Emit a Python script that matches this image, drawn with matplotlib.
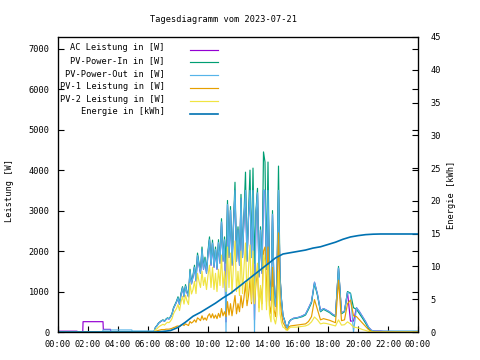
import matplotlib
matplotlib.use("Agg")
import matplotlib.pyplot as plt
from matplotlib.lines import Line2D
import numpy as np

# ---------------- data ----------------
# day series on a 6-minute grid (06:30 .. 15:30) then 12-minute grid (15:42 .. 21:30)
t_day = [6.5 + 0.1 * i for i in range(91)] + [15.7 + 0.2 * i for i in range(30)]

pv_in = [
    120, 160, 220, 250, 280,
    300, 270, 320, 350, 330, 380, 450, 600, 680, 760,
    870, 700, 950, 1120, 900, 1170, 1000, 900, 1550, 1230,
    1400, 1650, 1300, 1950, 1700, 1500, 2100, 1600, 1850, 1500,
    2000, 2350, 1700, 2270, 1650, 2100, 1600, 2280, 1750, 2800,
    1800, 2350, 1700, 3250, 1900, 3100, 1700, 2700, 3700, 1800,
    2600, 1700, 3400, 1900, 2900, 3950, 1800, 2900, 4000, 1900,
    4050, 1700, 3000, 3550, 1400, 2600, 1500, 4450, 4200, 1600,
    4200, 1300, 800, 3000, 1000, 650, 1400, 4100, 1400, 800,
    400, 300, 150, 100, 250, 300,
    330, 340, 360, 380, 420, 560, 720, 1200, 900, 500,
    560, 520, 480, 420, 380, 1620, 450, 500, 1000, 960,
    600, 560, 450, 340, 220, 90, 20, 0, 0, 0,
]
pv_out = [
    115, 155, 215, 245, 275,
    290, 265, 310, 340, 320, 370, 440, 580, 660, 740,
    840, 680, 920, 1090, 870, 1130, 970, 870, 1500, 1190,
    1360, 1600, 1260, 1890, 1650, 1450, 2040, 1550, 1790, 1450,
    1940, 2280, 1650, 2200, 1600, 2040, 1550, 2210, 1700, 2720,
    1750, 2280, 0, 3150, 1840, 3010, 1650, 2620, 3500, 1750,
    2520, 1650, 3300, 1840, 2810, 3500, 1750, 2810, 3500, 1840,
    3500, 0, 2910, 3440, 1360, 2520, 1450, 3500, 3500, 1550,
    3500, 1260, 780, 2910, 970, 630, 1360, 3500, 1360, 780,
    390, 290, 150, 100, 240, 290,
    340, 350, 370, 400, 440, 590, 750, 1230, 930, 520,
    580, 540, 500, 440, 400, 1580, 470, 520, 980, 940,
    0, 600, 500, 380, 260, 120, 40, 25, 25, 25,
]
ac_day = [
    115, 155, 215, 245, 275,
    290, 265, 310, 340, 320, 370, 440, 580, 660, 740,
    840, 680, 920, 1090, 870, 1130, 970, 870, 1500, 1190,
    1360, 1600, 1260, 1890, 1650, 1450, 2040, 1550, 1790, 1450,
    1940, 2280, 1650, 2200, 1600, 2040, 1550, 2210, 1700, 2720,
    1750, 2280, 250, 3150, 1840, 3010, 1650, 2620, 3500, 1750,
    2520, 1650, 3300, 1840, 2810, 3500, 1750, 2810, 3500, 1840,
    3500, 300, 2910, 3440, 1360, 2520, 1450, 3500, 3500, 1550,
    3500, 1260, 780, 2910, 970, 630, 1360, 3500, 1360, 780,
    390, 290, 150, 100, 240, 290,
    340, 350, 370, 400, 440, 590, 750, 1230, 930, 520,
    580, 540, 500, 440, 400, 1580, 470, 520, 980, 270,
    270, 600, 500, 380, 260, 120, 40, 25, 25, 25,
]
pv1 = [
    20, 30, 40, 50, 60,
    60, 60, 70, 70, 70, 80, 90, 110, 120, 140,
    150, 130, 170, 190, 160, 200, 180, 160, 260, 220,
    250, 300, 240, 350, 320, 280, 400, 300, 350, 290,
    400, 450, 350, 450, 340, 420, 330, 460, 360, 580,
    400, 500, 380, 750, 420, 700, 400, 650, 900, 450,
    700, 500, 900, 600, 850, 1200, 650, 900, 1300, 700,
    1500, 700, 1200, 1500, 600, 1100, 700, 2000, 2100, 750,
    2100, 650, 450, 1600, 550, 380, 800, 2450, 800, 450,
    230, 170, 80, 50, 130, 150,
    160, 170, 180, 190, 200, 260, 380, 800, 550, 300,
    330, 310, 290, 260, 230, 1280, 280, 300, 700, 790,
    400, 380, 300, 220, 140, 60, 15, 0, 0, 0,
]
pv2 = [
    60, 80, 120, 150, 170,
    190, 170, 210, 240, 230, 270, 330, 450, 520, 580,
    680, 530, 740, 880, 690, 910, 770, 680, 1200, 940,
    1050, 1250, 950, 1450, 1250, 1100, 1500, 1150, 1350, 1050,
    1400, 1650, 1100, 1600, 1050, 1450, 1000, 1550, 1150, 1900,
    1100, 1500, 1000, 2100, 1100, 1950, 950, 1650, 2250, 1000,
    1500, 900, 2000, 950, 1600, 2200, 800, 1550, 2150, 750,
    2000, 700, 1400, 1700, 500, 1150, 550, 1900, 1750, 550,
    1650, 450, 250, 1100, 330, 200, 420, 1500, 450, 230,
    120, 100, 50, 40, 90, 120,
    120, 120, 130, 140, 150, 180, 250, 370, 300, 200,
    220, 210, 190, 170, 150, 300, 170, 180, 250, 200,
    120, 110, 90, 60, 40, 15, 5, 0, 0, 0,
]

# night / late values
t_ac_night = [0.0, 1.27, 1.29, 1.65, 1.67, 3.0, 3.02, 3.5, 3.52, 6.4]
ac_night = [20, 20, 0, 0, 255, 255, 65, 65, 10, 10]
t_out_night = [0.0, 2.98, 3.0, 4.92, 4.94, 6.4]
out_night = [8, 8, 50, 50, 25, 25]
t_zero_night = [0.0, 6.4]
zero_night = [0, 0]
t_late = [21.7, 24.0]
ac_late = [15, 0]
out_late = [25, 25]
zero_late = [0, 0]

# cumulative energy [kWh]
t_energy = [0.0, 6.5, 7.0, 7.5, 8.0, 8.5, 9.0, 9.5, 10.0, 10.5, 11.0, 11.5, 12.0,
            12.5, 13.0, 13.5, 14.0, 14.5, 15.0, 15.5, 16.0, 16.5, 17.0, 17.5, 18.0,
            18.5, 19.0, 19.5, 20.0, 20.5, 21.0, 21.5, 24.0]
energy = [0.0, 0.0, 0.08, 0.22, 0.7, 1.5, 2.4, 3.0, 3.7, 4.4, 5.2, 5.9, 6.8,
          7.7, 8.6, 9.5, 10.4, 11.3, 11.9, 12.1, 12.3, 12.5, 12.8, 13.0, 13.35,
          13.7, 14.15, 14.5, 14.7, 14.85, 14.92, 14.95, 14.95]

hour_ticks = list(range(0, 25, 2))
hour_labels = ["%02d:00" % (h % 24) for h in hour_ticks]
watt_ticks = list(range(0, 8000, 1000))
kwh_ticks = list(range(0, 50, 5))

labels = ["AC Leistung in [W]", "PV-Power-In in [W]", "PV-Power-Out in [W]",
          "PV-1 Leistung in [W]", "PV-2 Leistung in [W]", "Energie in [kWh]"]
colors = ["#9400d3", "#009e73", "#56b4e9", "#e69f00", "#f0e442", "#0072b2"]

# ---------------- plot ----------------
FONT = "DejaVu Sans Mono"
FS = 6.2
plt.rcParams["font.family"] = [FONT]

W, H = 480, 360
fig = plt.figure(figsize=(W / 100, H / 100), dpi=100)
L, R, T, B = 58, 418, 37, 332
ax = fig.add_axes([L / W, 1 - B / H, (R - L) / W, (B - T) / H])
ax2 = ax.twinx()
ax.set_zorder(ax2.get_zorder() + 1)
ax.patch.set_visible(False)

lw = 0.85
ax.plot(t_ac_night + t_day + t_late, ac_night + ac_day + ac_late, color=colors[0], lw=lw)
ax.plot(t_zero_night + t_day + t_late, zero_night + pv_in + zero_late, color=colors[1], lw=lw)
ax.plot(t_out_night + t_day + t_late, out_night + pv_out + out_late, color=colors[2], lw=lw)
ax.plot(t_zero_night + t_day + t_late, zero_night + pv1 + zero_late, color=colors[3], lw=lw)
ax.plot(t_zero_night + t_day + t_late, zero_night + pv2 + zero_late, color=colors[4], lw=lw)

ymax_w = 7290
ax.set_xlim(0, 24)
ax.set_ylim(0, ymax_w)
ax2.set_ylim(0, 45)
# energy uses the right-hand kWh scale
ax2.plot(t_energy, energy, color=colors[5], lw=1.2)
ax2.set_zorder(ax.get_zorder() + 1)
ax2.patch.set_visible(False)

ax.set_xticks(hour_ticks)
ax.set_xticklabels(hour_labels)
ax.set_yticks(watt_ticks)
ax.set_yticklabels([str(v) for v in watt_ticks])
ax2.set_yticks(kwh_ticks)
ax2.set_yticklabels([str(v) for v in kwh_ticks])

ax.tick_params(axis="both", direction="in", length=4, width=0.8, labelsize=FS,
               right=True, top=False, pad=6, colors="black")
ax.tick_params(axis="x", pad=6)
ax2.tick_params(axis="y", direction="in", length=4, width=0.8, labelsize=FS,
                pad=9, left=False)
for a in (ax, ax2):
    for s in a.spines.values():
        s.set_linewidth(0.85)

fig.text(223 / W, 1 - 19 / H, "Tagesdiagramm vom 2023-07-21", ha="center", va="center",
         fontsize=FS)
fig.text(10 / W, 1 - 190 / H, "Leistung [W]", rotation=90, ha="center", va="center",
         fontsize=FS)
fig.text(452 / W, 1 - 195 / H, "Energie [kWh]", rotation=90, ha="center", va="center",
         fontsize=FS)

# legend (gnuplot style, no box)
for i, (lab, col) in enumerate(zip(labels, colors)):
    yl = 49.5 + 12.9 * i
    fig.text(165 / W, 1 - (yl - 2) / H, lab, ha="right", va="center", fontsize=FS)
    fig.add_artist(Line2D([190 / W, 218 / W], [1 - yl / H, 1 - yl / H], color=col,
                          lw=0.85 if i < 5 else 1.2))

fig.savefig("out.png", dpi=100)
